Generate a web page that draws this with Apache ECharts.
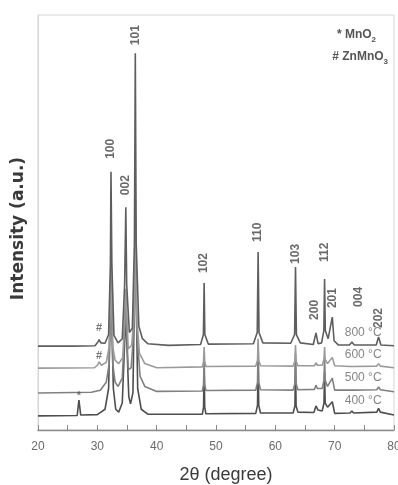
<!DOCTYPE html>
<html>
<head>
<meta charset="utf-8">
<script src="https://cdn.jsdelivr.net/npm/echarts@6/dist/echarts.min.js"></script>
<style>
  html, body { margin: 0; padding: 0; background: #fff; }
  #chart { width: 398px; height: 485px; }
</style>
</head>
<body>
<div id="chart"></div>
<script>
// XRD patterns of the samples annealed at different temperatures, [2θ, intensity] (offset stacks)
const trace800 = [
  [20, 20.2], [26, 20.2], [29.6, 20.3], [30.1, 21.2], [30.3, 21.8], [30.6, 21.0], [31.3, 20.9],
  [31.9, 23], [32.2, 40], [32.3, 62.2], [32.45, 40], [32.8, 22.8], [33.5, 21.0], [34.2, 22],
  [34.6, 35], [34.8, 53.7], [34.95, 35], [35.4, 23.5], [35.9, 24.5], [36.25, 45], [36.4, 90.8],
  [36.55, 45], [37.0, 25], [37.6, 22], [38.5, 20.8], [42, 20.4], [47.4, 20.6], [47.88, 23],
  [48.0, 35.4], [48.12, 23], [48.7, 20.7], [56.3, 20.8], [56.95, 23.5], [57.1, 42.9], [57.25, 23.5],
  [57.9, 21], [62.6, 20.9], [63.25, 23], [63.4, 39.3], [63.55, 23], [64.2, 21], [66.4, 20.6],
  [66.85, 23.4], [67.2, 20.8], [67.8, 21], [68.18, 24], [68.3, 36.4], [68.42, 24], [68.9, 22],
  [69.6, 27.2], [69.9, 21.5], [70.6, 20.5], [72.5, 20.5], [72.9, 21.2], [73.3, 20.5], [77.0, 20.5],
  [77.4, 22.4], [77.8, 20.5], [80, 20.3]
];
const trace600 = [
  [20, 14.9], [29.5, 15.0], [30.0, 15.6], [30.3, 16.4], [30.7, 15.6], [31.5, 16.3], [32.0, 20],
  [32.3, 40], [32.6, 20], [33.0, 16.8], [33.6, 16], [34.3, 17.5], [34.8, 34], [35.2, 19.5], [35.8, 20.5],
  [36.2, 28], [36.4, 52], [36.6, 28], [37.1, 18.5], [38, 16], [40, 15], [47.7, 15.2], [47.9, 16.5],
  [48.0, 20], [48.1, 16.5], [48.3, 15.3], [56.7, 15.4], [57.0, 16.8], [57.1, 22], [57.2, 16.8],
  [57.5, 15.5], [63.0, 15.4], [63.3, 16.6], [63.4, 20.5], [63.5, 16.6], [63.8, 15.5], [66.6, 15.5],
  [66.85, 16.2], [67.1, 15.6], [67.9, 15.6], [68.2, 17], [68.3, 20], [68.4, 17], [68.8, 16],
  [69.6, 17.5], [70.0, 15.5], [72.6, 15.3], [72.9, 15.6], [73.2, 15.3], [77.1, 15.4], [77.4, 16],
  [77.7, 15.4], [80, 15]
];
const trace500 = [
  [20, 8.9], [29, 9.1], [30.5, 9.6], [31.5, 11.5], [32.0, 16], [32.3, 36], [32.6, 16], [33.0, 11.5],
  [33.5, 10.5], [34.2, 12.5], [34.8, 30], [35.2, 14.5], [35.7, 15], [36.15, 24], [36.4, 48],
  [36.65, 24], [37.2, 13], [38, 10.5], [40, 9.3], [47.7, 9.4], [47.9, 11], [48.0, 17], [48.1, 11],
  [48.3, 9.5], [56.7, 9.6], [57.0, 11.5], [57.1, 21], [57.2, 11.5], [57.5, 9.7], [63.0, 9.6],
  [63.3, 11.2], [63.4, 18.5], [63.5, 11.2], [63.8, 9.7], [66.6, 9.8], [66.85, 10.8], [67.1, 10],
  [67.9, 10], [68.2, 12], [68.3, 17.5], [68.4, 12], [68.8, 10.5], [69.6, 12.5], [70.0, 9.6],
  [72.6, 9.6], [72.9, 10], [73.2, 9.6], [77.1, 9.7], [77.4, 10.4], [77.7, 9.7], [80, 9.2]
];
const trace400 = [
  [20, 3.4], [26.6, 3.5], [26.9, 7.2], [27.2, 3.6], [30, 3.7], [31.3, 5], [31.9, 10], [32.3, 36],
  [32.7, 10], [33.1, 5], [33.6, 4.3], [34.2, 6.5], [34.8, 28], [35.3, 8], [35.6, 6.3], [36.0, 9],
  [36.4, 46], [36.8, 10], [37.4, 5], [38.5, 3.8], [47.7, 3.8], [47.9, 5.5], [48.0, 15], [48.1, 5.5],
  [48.3, 3.9], [56.7, 4], [57.0, 6], [57.1, 18], [57.2, 6], [57.5, 4.1], [63.0, 4.1], [63.3, 5.8],
  [63.4, 16], [63.5, 5.8], [63.8, 4.3], [66.5, 4.2], [66.85, 5.8], [67.2, 4.8], [67.9, 4.6],
  [68.2, 6.5], [68.3, 14], [68.4, 6.5], [68.8, 5.5], [69.6, 6.8], [70.0, 4], [72.6, 4.1],
  [72.9, 4.6], [73.2, 4.1], [77.1, 4.3], [77.4, 5.2], [77.7, 4.3], [80, 3.6]
];

const traces = [trace800, trace600, trace500, trace400];
const temperatureLabels = ['800 °C', '600 °C', '500 °C', '400 °C'];
const xTickValues = [20, 30, 40, 50, 60, 70, 80];

// Miller indices of the wurtzite reflections
const hklNames = ['100', '002', '101', '102', '110', '103', '200', '112', '201', '004', '202'];
const hklAngles = [32.3, 34.8, 36.4, 48.0, 57.1, 63.4, 66.7, 68.3, 69.6, 74.1, 77.5];

// Secondary-phase reflections: symbol, pattern index, 2θ
const phaseSymbols = ['#', '#', '*'];
const phaseTrace = [0, 1, 3];
const phaseAngles = [30.3, 30.3, 26.9];

// ---- drawing helpers ----
function valueAt(trace, x) {
  for (let i = 1; i < trace.length; i++) {
    const [x0, y0] = trace[i - 1], [x1, y1] = trace[i];
    if (x >= x0 && x <= x1) return y0 + (y1 - y0) * (x - x0) / (x1 - x0);
  }
  return trace[trace.length - 1][1];
}
function peakValue(trace, x) {
  let best = valueAt(trace, x);
  trace.forEach(([px, py]) => { if (Math.abs(px - x) <= 0.25 && py > best) best = py; });
  return best;
}

const narrow = "'Liberation Sans Narrow', 'Liberation Sans', Arial, sans-serif";
const sans = "'Liberation Sans', Arial, sans-serif";
const lineColors = ['#5e5e5e', '#9a9a9a', '#808080', '#4e4e4e'];
// gap (px) between each peak top and its index label
const hklGaps = [13, 12, 8, 10, 10, 3, 13, 17, 9, 38, 9];
// vertical nudge (px) of the phase symbols from their small reflections
const phaseOffsets = [-12, -6, -4];

const series = traces.map((t, i) => ({
  type: 'line',
  data: t,
  showSymbol: false,
  symbol: 'none',
  smooth: false,
  z: 2 + (3 - i),
  lineStyle: { color: lineColors[i], width: 1.6 },
  animation: false
}));

series.push({
  type: 'scatter',
  symbolSize: 0,
  silent: true,
  animation: false,
  z: 10,
  data: hklNames.map((n, i) => ({
    name: n,
    value: [hklAngles[i], peakValue(trace800, hklAngles[i])],
    label: { distance: hklGaps[i] }
  })),
  label: {
    show: true,
    position: 'top',
    rotate: 90,
    align: 'left',
    verticalAlign: 'middle',
    formatter: p => p.name,
    fontFamily: sans,
    fontWeight: 'bold',
    fontSize: 12,
    color: '#444'
  }
});

series.push({
  type: 'scatter',
  symbolSize: 0,
  silent: true,
  animation: false,
  z: 10,
  data: phaseSymbols.map((s, i) => ({
    name: s,
    value: [phaseAngles[i], peakValue(traces[phaseTrace[i]], phaseAngles[i])],
    label: { offset: [0, phaseOffsets[i]] }
  })),
  label: {
    show: true,
    position: 'inside',
    formatter: p => p.name,
    fontFamily: sans,
    fontWeight: 'bold',
    fontSize: 11,
    color: '#555'
  }
});

series.push({
  type: 'scatter',
  symbolSize: 0,
  silent: true,
  animation: false,
  z: 10,
  data: temperatureLabels.map((s, i) => ({
    name: s,
    value: [74.8, valueAt(traces[i], 74.8)]
  })),
  label: {
    show: true,
    position: 'top',
    distance: 6,
    formatter: p => p.name,
    fontFamily: narrow,
    fontSize: 12,
    color: '#666'
  }
});

const chart = echarts.init(document.getElementById('chart'), null, { renderer: 'canvas' });
chart.setOption({
  animation: false,
  backgroundColor: '#fff',
  grid: {
    left: 38, right: 4, top: 15, bottom: 55,
    outerBoundsMode: 'none',
    show: true, borderColor: '#d6d6d6', borderWidth: 1, containLabel: false
  },
  xAxis: {
    type: 'value',
    min: 20, max: 80, interval: 5,
    name: '2θ (degree)',
    nameLocation: 'middle',
    nameGap: 36,
    nameTextStyle: { fontFamily: narrow, fontSize: 18, color: '#3a3a3a', padding: [0, 0, 0, 20] },
    axisLine: { show: true, lineStyle: { color: '#8a8a8a', width: 1.4 } },
    axisTick: { show: true, inside: true, length: 5, lineStyle: { color: '#8a8a8a' } },
    axisLabel: {
      margin: 11,
      fontFamily: narrow, fontSize: 12, color: '#6a6a6a',
      formatter: v => (xTickValues.includes(v) ? String(v) : '')
    },
    splitLine: { show: false }
  },
  yAxis: {
    type: 'value',
    min: 0, max: 100,
    name: 'Intensity (a.u.)',
    nameLocation: 'middle',
    nameRotate: 90,
    nameGap: 11,
    nameTextStyle: {
      fontFamily: "'DejaVu Sans', sans-serif", fontWeight: 'bold', fontSize: 17,
      color: '#3a3a3a', padding: [0, 12, 0, 0]
    },
    axisLine: { show: true, lineStyle: { color: '#d6d6d6' } },
    axisTick: { show: false },
    axisLabel: { show: false },
    splitLine: { show: false }
  },
  graphic: [
    {
      type: 'text', right: 22, top: 29,
      style: {
        text: '* MnO{s|2}',
        font: "bold 12px 'Liberation Sans', Arial, sans-serif",
        fill: '#555',
        rich: { s: { fontSize: 8, fontWeight: 'bold', fill: '#555', padding: [10, 0, 0, 0] } }
      }
    },
    {
      type: 'text', right: 10, top: 51,
      style: {
        text: '# ZnMnO{s|3}',
        font: "bold 12px 'Liberation Sans', Arial, sans-serif",
        fill: '#555',
        rich: { s: { fontSize: 8, fontWeight: 'bold', fill: '#555', padding: [10, 0, 0, 0] } }
      }
    }
  ],
  series: series
});
</script>
</body>
</html>
